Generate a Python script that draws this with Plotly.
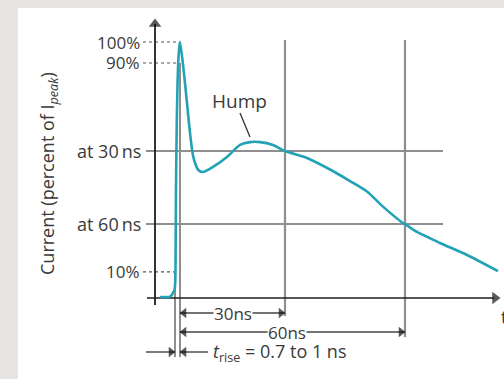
import plotly.graph_objects as go

# ---------------- data ----------------
# time axis in ns (schematic), current in percent of I_peak
t_ns = [-5.33, -2.93, -2.4, -1.87, -1.47, -1.25, -1.17, -1.07, -0.85, -0.48, -0.21, 0,
        0.88, 1.79, 2.67, 3.55, 4.88, 6.13, 8.8, 12.53, 16.0, 18.67, 21.33, 24.8, 28,
        33.87, 40.0, 45.33, 49.87, 54.13, 59.47, 60, 63.2, 69.33, 76.53, 84.8]
i_pct = [0.4, 0.4, 0.8, 2.0, 3.1, 7.0, 18.75, 42.2, 69.5, 91.8, 97.7, 100,
         90.2, 77.3, 64.5, 55.1, 50.0, 49.2, 51.2, 55.1, 59.8, 60.9, 60.9, 59.8, 57.4,
         54.7, 50.2, 45.7, 41.6, 35.7, 29.3, 28.9, 25.8, 21.5, 16.8, 10.5]

pct_levels = [100, 91.8, 10.2]          # dotted levels
pct_labels = ["100%", "90%", "10%"]
ns_levels = [57.4, 28.9]                 # current at 30 ns / 60 ns
ns_labels = ["at 30\u2009ns", "at 60\u2009ns"]
t_marks = [28, 60]                       # 30 ns and 60 ns markers
t_mark_labels = ["30ns", "60ns"]
t_rise_start = -1.33
t_peak = 0

# ---------------- geometry helpers (pixel layout) ----------------
W, H = 504, 379
def X(px):
    return (px - 180) / 3.75
def Y(py):
    return (298 - py) / 2.56

teal = "#22a2b4"
axis_c = "#1e1e1e"
grid_h = "#6a6a6a"
grid_v = "#8e8e8e"
txt = "#3a3a3a"
font = "Open Sans"

fig = go.Figure()

def seg(x0, y0, x1, y1, color, width, dash="solid"):
    fig.add_trace(go.Scatter(x=[x0, x1], y=[y0, y1], mode="lines",
                             line=dict(color=color, width=width, dash=dash),
                             hoverinfo="skip", showlegend=False))

# horizontal reference lines
for lv in ns_levels:
    seg(X(146), lv, X(443), lv, grid_h, 1.6)
# vertical marker lines
seg(t_peak, pct_levels[1], t_peak, Y(357), grid_v, 2)
seg(t_rise_start, pct_levels[2], t_rise_start, Y(357), grid_v, 2)
seg(t_marks[0], Y(40), t_marks[0], Y(316), grid_v, 2.2)
seg(t_marks[1], Y(40), t_marks[1], Y(337), grid_v, 2.2)
# dotted levels
seg(X(143), pct_levels[0], X(178), pct_levels[0], "#555555", 1.2, "dot")
seg(X(143), pct_levels[1], X(178), pct_levels[1], "#555555", 1.2, "dot")
seg(X(143), pct_levels[2], X(174), pct_levels[2], "#555555", 1.2, "dot")
# axes
seg(X(155), Y(305), X(155), Y(24), axis_c, 1.8)
seg(X(147), 0, X(494), 0, axis_c, 1.6)
# dimension lines
dim_y = [Y(313), Y(332)]
for tm, dy in zip(t_marks, dim_y):
    seg(t_peak, dy, tm, dy, "#444444", 1.4)
rise_y = Y(352)
seg(X(146), rise_y, t_rise_start, rise_y, "#444444", 1.4)
seg(X(208), rise_y, t_peak, rise_y, "#444444", 1.4)
# hump leader
seg(X(240), Y(113), X(250), Y(137), "#333333", 1.3)

# waveform
fig.add_trace(go.Scatter(x=t_ns, y=i_pct, mode="lines",
                         line=dict(color=teal, width=2.6, shape="spline", smoothing=0.7),
                         hoverinfo="skip", showlegend=False))

# arrowheads
ah_x = [X(155), X(495), X(184), t_marks[0] - 4 / 3.75, X(184), t_marks[1] - 4 / 3.75,
        X(171), X(184)]
ah_y = [Y(24), 0, dim_y[0], dim_y[0], dim_y[1], dim_y[1], rise_y, rise_y]
ah_s = ["triangle-up", "triangle-right", "triangle-left", "triangle-right",
        "triangle-left", "triangle-right", "triangle-right", "triangle-left"]
ah_z = [11, 11, 9, 9, 9, 9, 9, 9]
fig.add_trace(go.Scatter(x=ah_x, y=ah_y, mode="markers",
                         marker=dict(symbol=ah_s, size=ah_z, color="#111111",
                                     line=dict(width=0)),
                         hoverinfo="skip", showlegend=False))

ann = []
def label(x, y, text, xa="center", size=18, bg=None, **kw):
    d = dict(x=x, y=y, xref="x", yref="y", text=text, showarrow=False,
             xanchor=xa, yanchor="middle",
             font=dict(family=font, size=size, color=txt))
    if bg:
        d["bgcolor"] = bg
        d["borderpad"] = 0
    d.update(kw)
    ann.append(d)

for lv, lb in zip(pct_levels, pct_labels):
    label(X(142), lv, lb, xa="right", size=17)
for lv, lb in zip(ns_levels, ns_labels):
    label(X(143), lv, lb, xa="right", size=18)
for tm, dy, lb, cx in zip(t_marks, dim_y, t_mark_labels, [X(233), X(287)]):
    label(cx, dy, lb, bg="white", size=17)
label(X(211), rise_y, "<i>t</i><sub>rise</sub> = 0.7 to 1 ns", xa="left", size=18)
label(X(239), Y(101), "Hump", size=19)
label(X(499), Y(317), "t", xa="left", size=18)
label(X(48), Y(174), "Current (percent of I<sub><i>peak</i></sub>)", textangle=-90, size=18)

fig.update_layout(
    width=W, height=H,
    margin=dict(l=0, r=0, t=0, b=0),
    paper_bgcolor="#e8e4e2",
    plot_bgcolor="rgba(0,0,0,0)",
    xaxis=dict(range=[X(0), X(W)], visible=False, fixedrange=True),
    yaxis=dict(range=[Y(H), Y(0)], visible=False, fixedrange=True),
    shapes=[dict(type="rect", xref="paper", yref="paper",
                 x0=18 / W, x1=1, y0=0, y1=1 - 8 / H,
                 fillcolor="white", line=dict(width=0), layer="below")],
    annotations=ann,
    showlegend=False,
)

fig.write_html("out.html", config={"displayModeBar": False},
               post_script="document.body.style.margin='0';document.body.style.overflow='hidden';")
